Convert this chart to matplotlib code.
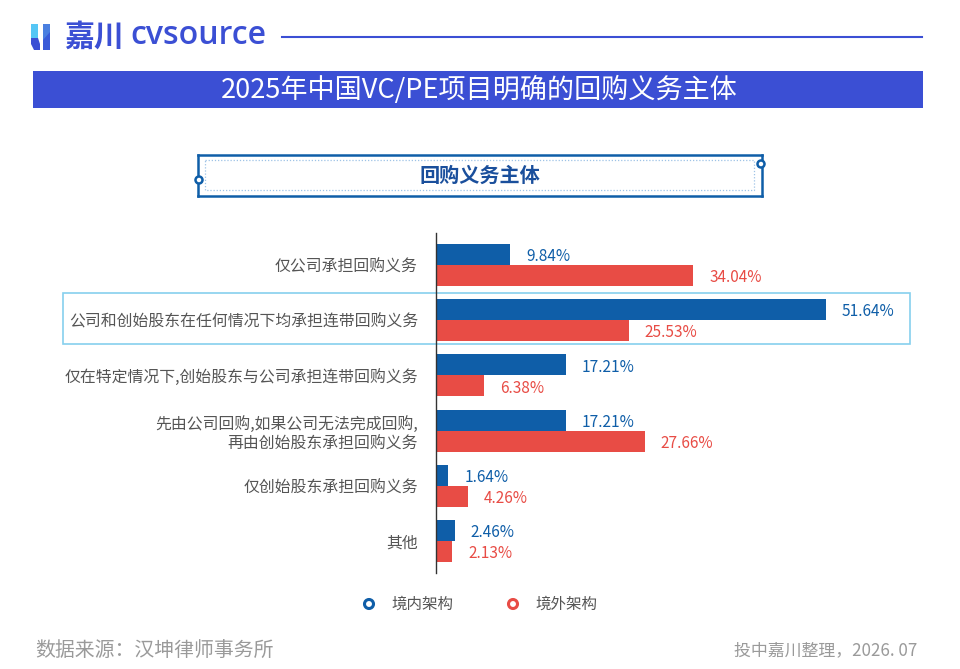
import matplotlib
matplotlib.use("Agg")
import matplotlib.pyplot as plt
from matplotlib.patches import Rectangle, FancyBboxPatch, Circle, Polygon
from matplotlib.lines import Line2D

plt.rcParams['font.family'] = ['Noto Sans CJK SC', 'DejaVu Sans']

categories = [
    "仅公司承担回购义务",
    "公司和创始股东在任何情况下均承担连带回购义务",
    "仅在特定情况下,创始股东与公司承担连带回购义务",
    "先由公司回购,如果公司无法完成回购,\n再由创始股东承担回购义务",
    "仅创始股东承担回购义务",
    "其他",
]
domestic = [9.84, 51.64, 17.21, 17.21, 1.64, 2.46]
offshore = [34.04, 25.53, 6.38, 27.66, 4.26, 2.13]
series_names = ["境内架构", "境外架构"]

title = "2025年中国VC/PE项目明确的回购义务主体"
subtitle = "回购义务主体"
source = "数据来源：汉坤律师事务所"
credit = "投中嘉川整理，2026. 07"

BLUE = "#0f5ea8"
RED = "#e84c45"
GRAY = "#555555"
BANNER = "#3b4fd4"

W, H = 960, 669
fig = plt.figure(figsize=(W / 100, H / 100), dpi=100)

def fx(x):
    return x / W

def fy(y):
    return 1 - y / H

# overlay axes in pixel coordinates
ov = fig.add_axes([0, 0, 1, 1], zorder=0)
ov.set_xlim(0, W)
ov.set_ylim(H, 0)
ov.axis("off")

# logo icon
ov.add_patch(Polygon([(31, 24), (38, 24), (38, 38), (31, 38)], closed=True, color="#55c6f5", lw=0))
ov.add_patch(Polygon([(31, 38), (38, 38), (40, 44), (40, 50), (34, 50), (31, 44)], closed=True, color="#3b4fd4", lw=0))
ov.add_patch(Polygon([(43, 24), (50, 24), (50, 50), (43, 50)], closed=True, color="#3a5bd8", lw=0))
ov.add_patch(Polygon([(43, 24), (50, 24), (50, 32), (43, 40)], closed=True, color="#4a7fe0", lw=0))
ov.text(64, 37, "嘉川", fontsize=21.5, fontweight="bold", color="#3b4fd4", va="center", ha="left")
ov.text(130, 35, "cvsource", fontsize=23, fontweight="semibold", color="#3b4fd4", va="center", ha="left",
        family=["Open Sans", "DejaVu Sans"])
ov.add_line(Line2D([282, 922], [37, 37], color="#3b4fd4", lw=1.5))

# title banner
ov.add_patch(Rectangle((33, 71), 890, 37, color=BANNER, lw=0))
ov.text(479, 90, title, fontsize=19.5, color="white", ha="center", va="center")

# subtitle box
ov.add_line(Line2D([198, 762], [155, 155], color=BLUE, lw=1.8))
ov.add_line(Line2D([198, 762], [196, 196], color=BLUE, lw=1.8))
ov.add_line(Line2D([198, 198], [155, 196], color=BLUE, lw=1.8))
ov.add_line(Line2D([762, 762], [155, 196], color=BLUE, lw=1.8))
ov.add_patch(Rectangle((205, 160), 549, 30, fill=False, edgecolor="#9fc3e6", lw=0.9, ls=(0, (1, 1.5))))
ov.add_patch(Circle((199, 180), 3.5, facecolor="white", edgecolor=BLUE, lw=1.8, zorder=5))
ov.add_patch(Circle((761, 164), 3.5, facecolor="white", edgecolor=BLUE, lw=1.8, zorder=5))
ov.text(480, 175, subtitle, fontsize=14.5, fontweight="bold", color="#1a4f9c", ha="center", va="center")

# highlight box
ov.add_patch(Rectangle((63, 293), 847, 51, fill=False, edgecolor="#86d0ee", lw=1.2))

# legend
ov.add_patch(Circle((369, 604), 4.5, facecolor="white", edgecolor=BLUE, lw=2.2))
ov.text(391, 604, series_names[0], fontsize=11.2, color=GRAY, ha="left", va="center")
ov.add_patch(Circle((513, 604), 4.5, facecolor="white", edgecolor=RED, lw=2.2))
ov.text(535, 604, series_names[1], fontsize=11.2, color=GRAY, ha="left", va="center")

# footer
ov.text(35, 650, source, fontsize=14.3, color="#9a9a9a", ha="left", va="center")
ov.text(917, 650, credit, fontsize=12.2, color="#9a9a9a", ha="right", va="center")

# bar chart axes
ax_left, ax_right = 436, 922
ax_top, ax_bot = 233, 573
px_per_pct = (826 - 436) / 51.64
ax = fig.add_axes([fx(ax_left), fy(ax_bot), fx(ax_right - ax_left), (ax_bot - ax_top) / H], zorder=2)
ax.patch.set_alpha(0)
ax.set_xlim(0, (ax_right - ax_left) / px_per_pct)
ax.set_ylim(5.58, -0.58)
bh = 0.38
ys = list(range(len(categories)))
ax.barh([y - bh / 2 for y in ys], domestic, height=bh, color=BLUE)
ax.barh([y + bh / 2 for y in ys], offshore, height=bh, color=RED)
off = 16 / px_per_pct
dy = 0.04
for y, d, o in zip(ys, domestic, offshore):
    ax.text(d + off, y - bh / 2 + dy, f"{d:.2f}%", fontsize=11.1, color=BLUE, va="center", ha="left")
    ax.text(o + off, y + bh / 2 + dy, f"{o:.2f}%", fontsize=11.1, color=RED, va="center", ha="left")
for s in ["top", "right", "bottom"]:
    ax.spines[s].set_visible(False)
ax.spines["left"].set_color("#333333")
ax.spines["left"].set_linewidth(1.0)
ax.set_xticks([])
ax.set_yticks(ys)
ax.set_yticklabels(categories, fontsize=11.4, color=GRAY, linespacing=1.25)
ax.tick_params(axis="y", length=0, pad=13)

fig.savefig("out.png", dpi=100)
